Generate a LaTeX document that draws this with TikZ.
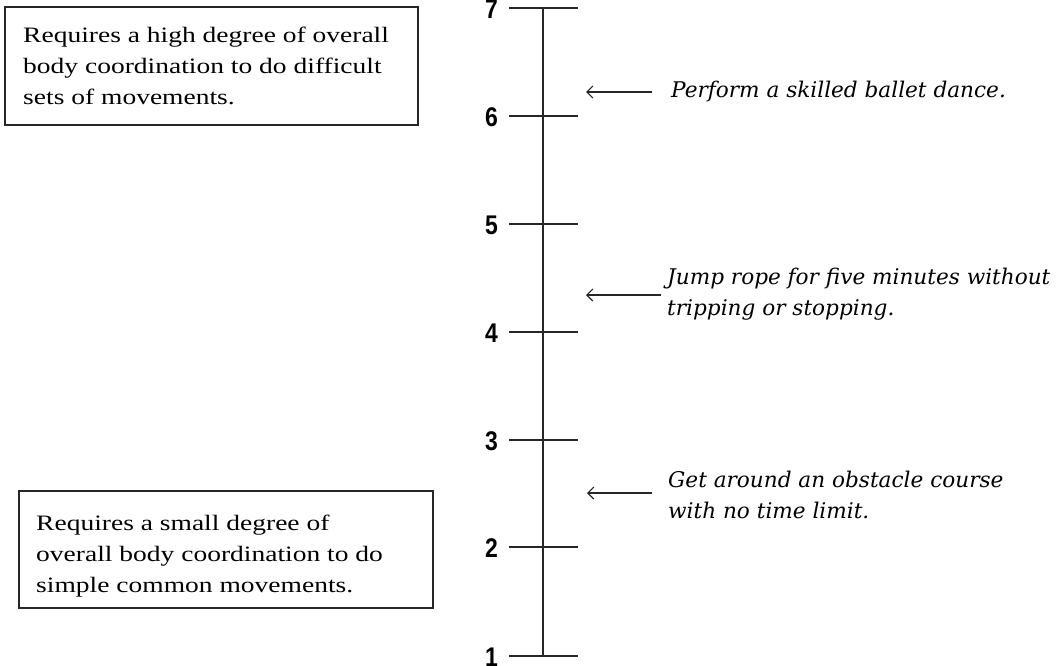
\documentclass[tikz,border=0pt]{standalone}
\usepackage{fontspec}
\setmainfont{Liberation Serif}[FakeStretch=1.25]
\newfontfamily\notefont{DejaVu Serif}
\newfontfamily\numfont{Liberation Sans}[FakeStretch=0.85]
\usetikzlibrary{arrows.meta}
\tikzset{
  axisline/.style={line width=1.2pt, draw=black!85},
  descbox/.style={draw=black!85, line width=1.1pt, anchor=north west, inner sep=0pt},
  desctext/.style={anchor=north west, align=left, font=\fontsize{22}{31}\selectfont, inner sep=0pt},
  notetext/.style={anchor=west, align=left, font=\notefont\itshape\fontsize{21.6}{31}\selectfont, inner sep=0pt},
  numlabel/.style={anchor=east, font=\numfont\bfseries\fontsize{27}{27}\selectfont, inner sep=0pt},
  pointer/.style={-{Straight Barb[length=6pt,width=12pt,line width=1.1pt]}, line width=1.2pt, draw=black!85},
}
\begin{document}
\begin{tikzpicture}[x=1pt,y=-1pt]
\useasboundingbox (0,0) rectangle (1060,665);
% axis
\coordinate (top) at (543,8);
\coordinate (bot) at (543,656);
\draw[axisline] (top) -- (bot);
\foreach \n/\y in {7/8,6/116,5/224,4/332,3/440,2/547,1/656}{
  \coordinate (tl\n) at (509,\y);
  \coordinate (tr\n) at (578,\y);
  \draw[axisline] (tl\n) -- (tr\n);
  \node[numlabel] (n\n) at (498,\y+1) {\n};
}
% boxes
\draw[descbox] (5,7) rectangle (418,125);
\node[desctext] (hi) at (23,27) {Requires a high degree of overall\\body coordination to do difficult\\sets of movements.};
\draw[descbox] (19,491) rectangle (433,608);
\node[desctext] (lo) at (36,515) {Requires a small degree of\\overall body coordination to do\\simple common movements.};
% notes
\node[notetext] (t1) at (671,92) {Perform a skilled ballet dance.};
\node[notetext] (t2) at (667,294) {Jump rope for five minutes without\\tripping or stopping.};
\node[notetext] (t3) at (668,495) {Get around an obstacle course\\with no time limit.};
\coordinate (a1s) at (652,92);  \coordinate (a1e) at (586,92);
\coordinate (a2s) at (661,295); \coordinate (a2e) at (586,295);
\coordinate (a3s) at (652,493); \coordinate (a3e) at (587,493);
\draw[pointer] (a1s) -- (a1e);
\draw[pointer] (a2s) -- (a2e);
\draw[pointer] (a3s) -- (a3e);
\end{tikzpicture}
\end{document}
